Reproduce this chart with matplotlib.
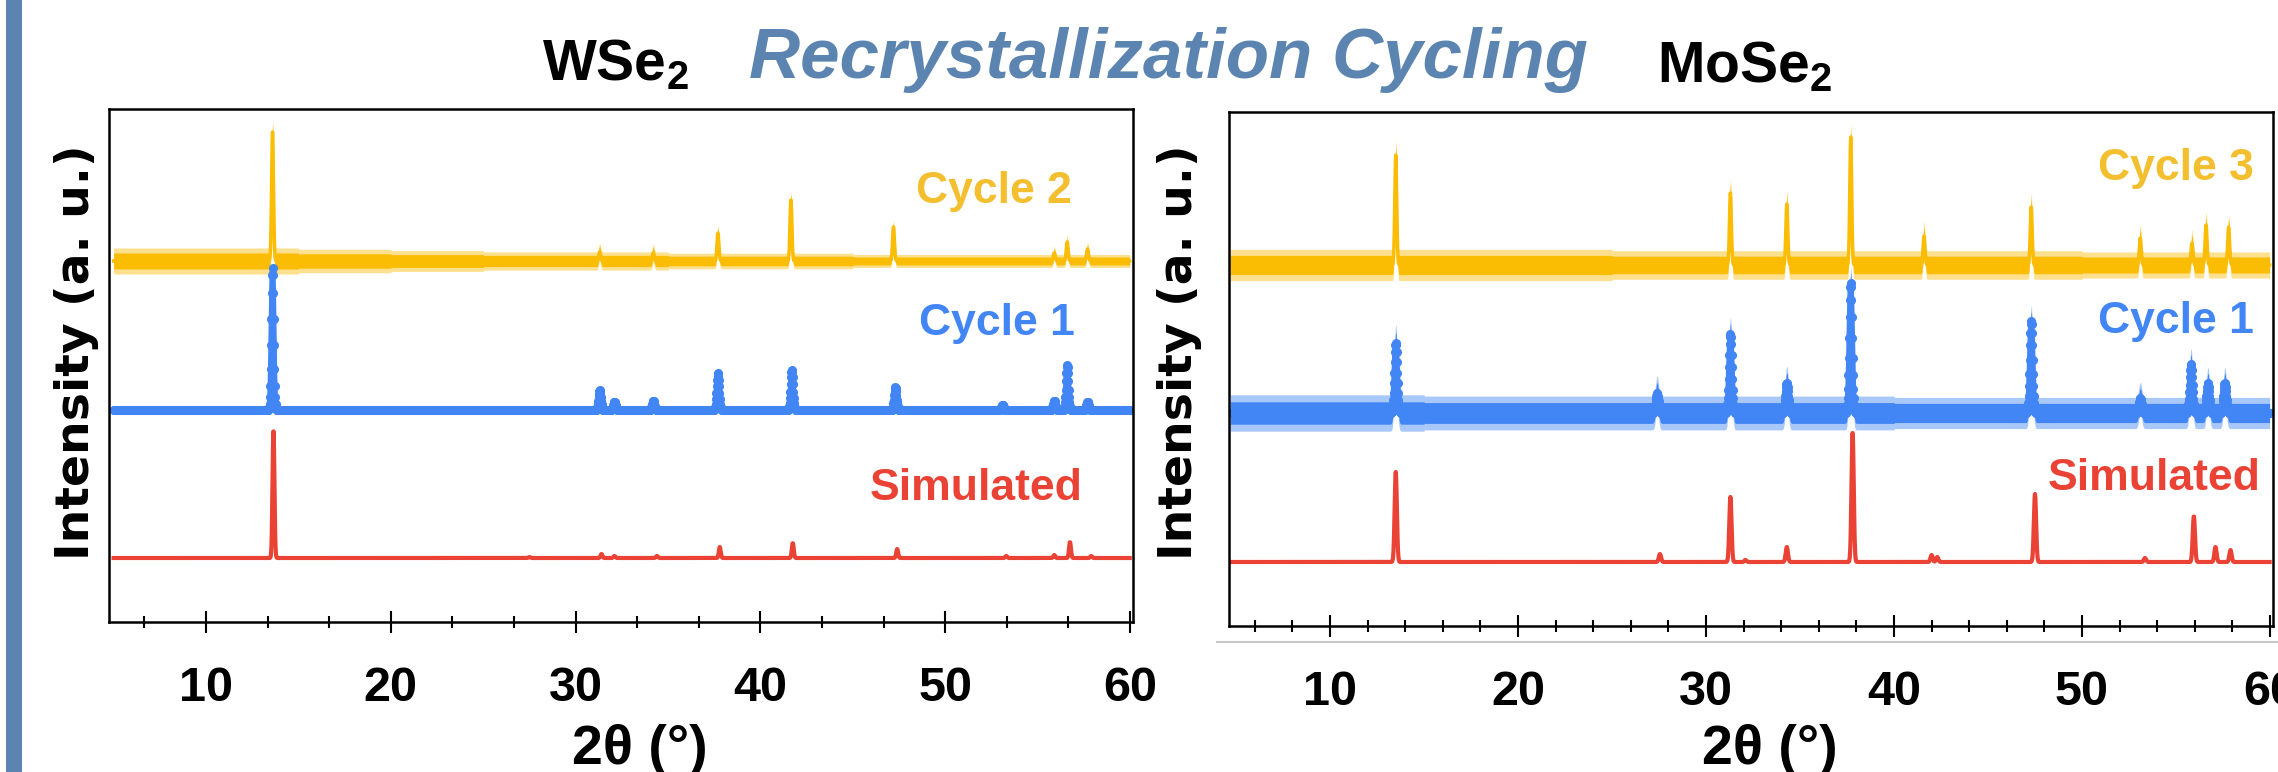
import numpy as np
import matplotlib.pyplot as plt
from matplotlib.ticker import AutoMinorLocator
from matplotlib.lines import Line2D
from matplotlib.patches import Rectangle

plt.rcParams['font.family'] = ['Liberation Sans', 'DejaVu Sans']
plt.rcParams['mathtext.fontset'] = 'custom'
plt.rcParams['mathtext.rm'] = 'Liberation Sans'
plt.rcParams['mathtext.bf'] = 'Liberation Sans:bold'
plt.rcParams['mathtext.default'] = 'bf'

# ---- data (peak positions in 2theta, heights in a.u.) ----
xticks = [10, 20, 30, 40, 50, 60]

# WSe2
wse2_c2_pos = [13.6, 31.3, 34.2, 37.7, 41.65, 47.2, 55.9, 56.6, 57.7]
wse2_c2_h = [129, 9, 8, 28, 62, 34, 8, 19, 12]
wse2_c2_noise = [10, 10, 9, 8, 7, 7, 6, 6, 5, 5, 5]   # noise half-width per 5 deg
wse2_c1_pos = [13.6, 31.3, 32.1, 34.2, 37.7, 41.7, 47.3, 53.1, 55.9, 56.6, 57.7]
wse2_c1_h = [142, 20, 8, 9, 37, 40, 23, 5, 9, 45, 8]
wse2_sim_pos = [13.65, 27.5, 31.4, 32.1, 34.4, 37.8, 41.75, 47.4, 53.3, 55.9, 56.75, 57.9]
wse2_sim_h = [129, 1, 4, 2, 2, 11, 15, 9, 2, 3, 16, 2]
wse2_offsets = [361, 212, 64]

# MoSe2
mose2_c3_pos = [13.5, 31.3, 34.3, 37.7, 41.6, 47.3, 53.1, 55.85, 56.6, 57.8]
mose2_c3_h = [110, 72, 61, 128, 29, 58, 27, 22, 40, 38]
mose2_c3_noise = [12, 12, 12, 12, 11, 11, 11, 11, 11, 10, 10]
mose2_c1_pos = [13.5, 27.4, 31.3, 34.3, 37.7, 47.3, 53.1, 55.8, 56.7, 57.6]
mose2_c1_h = [70, 20, 79, 30, 130, 92, 15, 49, 30, 30]
mose2_c1_noise = [14, 14, 13, 13, 13, 13, 13, 12, 12, 12, 12]
mose2_sim_pos = [13.5, 27.55, 31.3, 32.1, 34.3, 37.8, 42.0, 42.3, 47.5, 53.35, 55.95, 57.1, 57.9]
mose2_sim_h = [90, 8, 65, 2, 15, 129, 7, 5, 68, 4, 46, 15, 12]
mose2_offsets = [361, 213, 64]

YELLOW = '#FBBC04'
BLUE = '#4285F4'
RED = '#EA4335'
TITLE_BLUE = '#5B84B1'

W, H = 2278, 772


def fx(px):
    return px / W


def fy(py):
    return 1 - py / H


def pattern(x, pos, h, fwhm=0.15):
    s = fwhm / 2.355
    y = np.zeros_like(x)
    for p, hh in zip(pos, h):
        y += hh * np.exp(-0.5 * ((x - p) / s) ** 2)
    return y


def band(x, noise):
    seg = np.clip(((x - 5) // 5).astype(int), 0, len(noise) - 1)
    return np.array(noise, dtype=float)[seg]


def noisy(ax, x, y, amp, color):
    ax.fill_between(x, y - 1.3 * amp, y + 1.3 * amp, color=color, alpha=0.45, lw=0)
    ax.fill_between(x, y - 0.8 * amp, y + 0.8 * amp, color=color, lw=0)
    ax.plot(x, y, color=color, lw=2.5)


def beaded(ax, x, y, color):
    ax.plot(x, y, color=color, lw=4, marker='o', ms=5.5, mec=color, mfc=color)


def setup(ax, xlim, ylim, nminor):
    ax.set_xlim(xlim)
    ax.set_ylim(ylim)
    ax.set_yticks([])
    ax.set_xticks(xticks)
    ax.set_xticklabels([str(t) for t in xticks], fontweight='bold')
    ax.xaxis.set_minor_locator(AutoMinorLocator(nminor))
    ax.tick_params(axis='x', which='major', direction='inout', length=16,
                   width=1.5, labelsize=35, pad=24)
    ax.tick_params(axis='x', which='minor', direction='inout', length=8, width=1.5)
    for sp in ax.spines.values():
        sp.set_linewidth(1.8)


fig = plt.figure(figsize=(W / 100, H / 100), dpi=100)

# ---- WSe2 panel ----
ax1 = fig.add_axes([fx(109), fy(622), fx(1133 - 109), (622 - 109) / H])
xl = np.arange(5.0, 60.0, 0.02)
y = wse2_offsets[0] + pattern(xl, wse2_c2_pos, wse2_c2_h, 0.12)
noisy(ax1, xl, y, band(xl, wse2_c2_noise), YELLOW)
y = wse2_offsets[1] + pattern(xl, wse2_c1_pos, wse2_c1_h, 0.15)
beaded(ax1, xl, y, BLUE)
y = wse2_offsets[2] + pattern(xl, wse2_sim_pos, wse2_sim_h, 0.12)
ax1.plot(xl, y, color=RED, lw=3)
setup(ax1, (4.75, 60.16), (0, 513), 3)

# ---- MoSe2 panel ----
ax2 = fig.add_axes([fx(1229), fy(626), fx(2273 - 1229), (626 - 112) / H])
xr = np.arange(4.7, 60.0, 0.02)
y = mose2_offsets[0] + pattern(xr, mose2_c3_pos, mose2_c3_h, 0.12)
noisy(ax2, xr, y, band(xr, mose2_c3_noise), YELLOW)
y = mose2_offsets[1] + pattern(xr, mose2_c1_pos, mose2_c1_h, 0.18)
noisy(ax2, xr, y, band(xr, mose2_c1_noise), BLUE)
beaded(ax2, xr, y, BLUE)
y = mose2_offsets[2] + pattern(xr, mose2_sim_pos, mose2_sim_h, 0.14)
ax2.plot(xr, y, color=RED, lw=3)
setup(ax2, (4.63, 60.16), (0, 514), 5)

# ---- labels ----
lab = dict(fontsize=32, fontweight='bold', ha='right', va='baseline')
fig.text(fx(1072), fy(203), 'Cycle 2', color='#F3BF2F', **lab)
fig.text(fx(1075), fy(335), 'Cycle 1', color=BLUE, **lab)
fig.text(fx(1083), fy(500), 'Simulated', color=RED, **lab)
fig.text(fx(2254), fy(180), 'Cycle 3', color='#F3BF2F', **lab)
fig.text(fx(2254), fy(333), 'Cycle 1', color=BLUE, **lab)
fig.text(fx(2261), fy(490), 'Simulated', color=RED, **lab)

for xc in (77, 1180):
    fig.text(fx(xc), fy(352), 'Intensity (a. u.)', rotation=90, ha='center', va='center',
             family='DejaVu Sans', fontweight='bold', fontsize=34)
for xc in (640, 1770):
    fig.text(fx(xc), fy(764), '2θ (°)', ha='center', va='baseline',
             fontweight='bold', fontsize=40)

fig.text(fx(542), fy(80), 'WSe$_2$', fontsize=41, fontweight='bold', va='baseline')
fig.text(fx(1657), fy(82), 'MoSe$_2$', fontsize=41, fontweight='bold', va='baseline')
fig.text(fx(749), fy(78), 'Recrystallization Cycling', fontsize=51, fontweight='bold',
         style='italic', color=TITLE_BLUE, va='baseline')

fig.add_artist(Rectangle((fx(6), 0), fx(16), 1, transform=fig.transFigure,
                         color=TITLE_BLUE, lw=0))
fig.add_artist(Line2D([fx(1217), 1], [fy(642), fy(642)], transform=fig.transFigure,
                      color='#C8C8C8', lw=1.5))

fig.savefig('out.png', dpi=100)
